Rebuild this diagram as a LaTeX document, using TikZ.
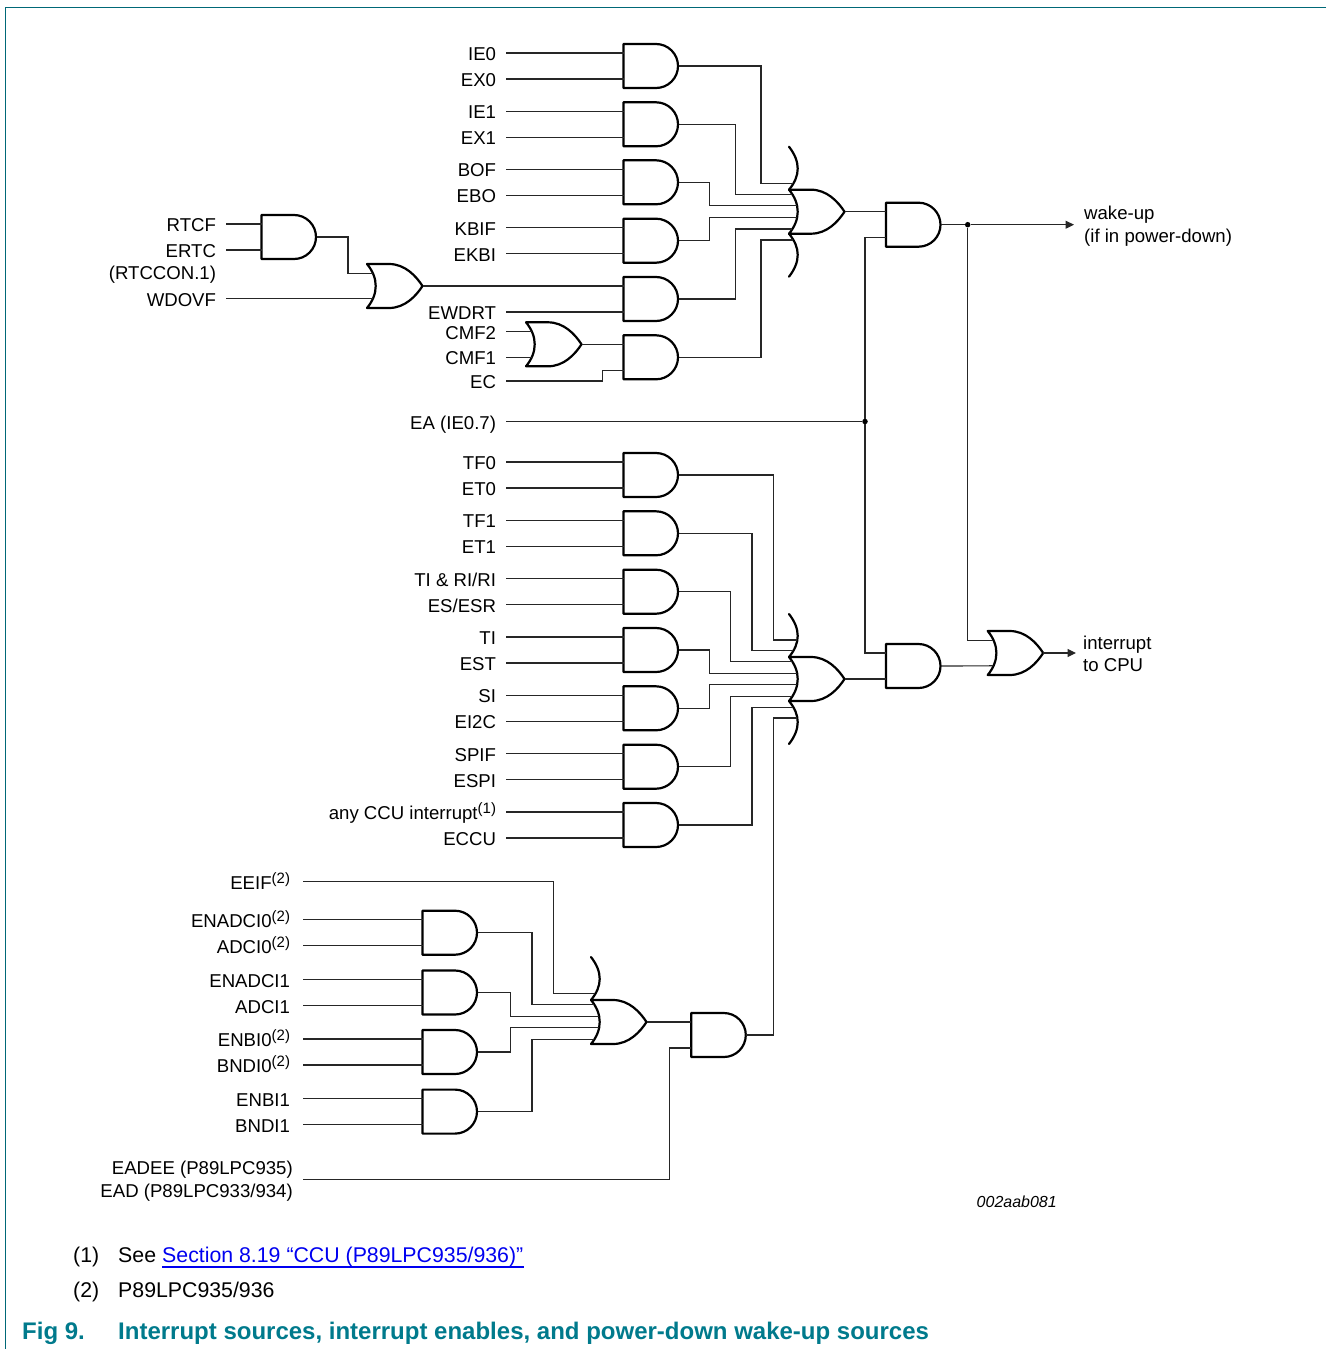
\documentclass[tikz,border=0pt]{standalone}
\usepackage{fontspec}
\setmainfont{Liberation Sans}
\usetikzlibrary{arrows.meta,calc}
\definecolor{teal9}{HTML}{007A8C}
\definecolor{link9}{HTML}{0000F0}
\newcommand\supp[1]{\raisebox{6pt}{\fontsize{15}{15}\selectfont(#1)}}
\newcommand\inlab[4]{\node[lab] (#1) at (#3,0 |- #2) {#4}; \draw[wire] (#1.east) -- (#2);}
\newcommand\inlabb[4]{\node[labb] (#1) at (#3,0 |- #2) {#4}; \draw[wire] (#1.east) -- (#2);}
\tikzset{
  x=1pt,y=-1pt,
  wire/.style={line width=1.15pt,draw=black!85},
  gateline/.style={line width=2.2pt,line join=round,draw=black},
  lab/.style={anchor=east,font=\fontsize{18.6}{22}\selectfont,inner xsep=0pt,inner ysep=0pt,outer xsep=10pt,outer ysep=0pt,text height=15pt,text depth=0pt},
  labb/.style={lab,outer xsep=13pt},
  plain/.style={font=\fontsize{18.6}{23}\selectfont,inner sep=0pt,align=left},
  foot/.style={anchor=base west,font=\fontsize{21.3}{25}\selectfont,inner sep=0pt},
  captxt/.style={anchor=base west,font=\fontsize{24}{27}\selectfont\bfseries,text=teal9,inner sep=0pt},
  jdot/.style={circle,fill=black,inner sep=0pt,minimum size=5.5pt},
  arroww/.style={wire,-{Triangle[length=8.5pt,width=8pt]}},
  andg/.pic={
    \draw[gateline] (-27.5,-22) -- (5,-22) arc[start angle=90,end angle=-90,radius=22pt] -- (-27.5,22) -- cycle;
    \coordinate (-a) at (-27.5,-13);
    \coordinate (-b) at (-27.5,13);
    \coordinate (-o) at (27.5,0);
  },
  orbody/.pic={
    \draw[gateline] (0,-22) -- (22,-22) .. controls (38,-22) and (49,-10) .. (55.5,0) .. controls (49,10) and (38,22) .. (22,22) -- (0,22) .. controls (11.6,8) and (11.6,-8) .. (0,-22) -- cycle;
    \coordinate (-ia) at (5.75,-12.8);
    \coordinate (-ib) at (5.75,12.8);
    \coordinate (-t1) at (8.2,-5.8);
    \coordinate (-b1) at (8.2,5.8);
    \coordinate (-t2) at (3.3,-17.3);
    \coordinate (-b2) at (3.3,17.3);
    \coordinate (-t3) at (4.4,-28.3);
    \coordinate (-b3) at (4.4,28.3);
    \coordinate (-t4) at (8.3,-39);
    \coordinate (-b4) at (8.3,39);
    \coordinate (-o) at (55.5,0);
  },
  extup/.pic={\draw[gateline,line cap=round] (0,-22) .. controls (11.6,-36) and (11.6,-50) .. (0,-65);},
  extdn/.pic={\draw[gateline,line cap=round] (0,22) .. controls (11.6,36) and (11.6,50) .. (0,65);},
}
\begin{document}
\begin{tikzpicture}
\useasboundingbox (0,0) rectangle (1326,1349);
% frame
\draw[line width=1.5pt,draw=teal9!85!black] (1326,7.5) -- (5.5,7.5) -- (5.5,1349);

% bus x positions
\coordinate (v1) at (761,0);
\coordinate (v2) at (735.5,0);
\coordinate (v3) at (709.5,0);
\coordinate (w1) at (773.3,0);
\coordinate (w2) at (752,0);
\coordinate (w3) at (730.7,0);
\coordinate (w4) at (709.3,0);
\coordinate (u1) at (553.7,0);
\coordinate (u2) at (532,0);
\coordinate (u3) at (510.3,0);
\coordinate (ead) at (669.3,0);
\coordinate (ecj) at (602.3,0);
\coordinate (rtcj) at (348,0);

% first group gates
\pic (a1) at (651,66) {andg};
\pic (a2) at (651,124.3) {andg};
\pic (a3) at (651,182.3) {andg};
\pic (a4) at (651,240.7) {andg};
\pic (a5) at (651,299) {andg};
\pic (a6) at (651,357.3) {andg};
\pic (art) at (289,237) {andg};
\pic (ort) at (367,286) {orbody};
\pic (ocm) at (526,344.3) {orbody};
\pic (o1) at (789,211.7) {orbody};
\pic at (789,211.7) {extup};
\pic at (789,211.7) {extdn};
\pic (x1) at (913.5,224.7) {andg};

% second group gates
\pic (b1) at (651,475) {andg};
\pic (b2) at (651,533.3) {andg};
\pic (b3) at (651,591.7) {andg};
\pic (b4) at (651,650) {andg};
\pic (b5) at (651,708.3) {andg};
\pic (b6) at (651,766.7) {andg};
\pic (b7) at (651,825) {andg};
\pic (o2) at (789,679) {orbody};
\pic at (789,679) {extup};
\pic at (789,679) {extdn};
\pic (x2) at (913.5,666) {andg};
\pic (of) at (987.7,653) {orbody};

% third group gates
\pic (c1) at (450,932.7) {andg};
\pic (c2) at (450,992.5) {andg};
\pic (c3) at (450,1052) {andg};
\pic (c4) at (450,1111.6) {andg};
\pic (o3) at (591,1022) {orbody};
\pic at (591,1022) {extup};
\pic (x3) at (718.8,1035) {andg};

% inputs group 1
\inlab{IEzero}{a1-a}{506}{IE0}
\inlab{EXzero}{a1-b}{506}{EX0}
\inlab{IEone}{a2-a}{506}{IE1}
\inlab{EXone}{a2-b}{506}{EX1}
\inlab{BOF}{a3-a}{506}{BOF}
\inlab{EBO}{a3-b}{506}{EBO}
\inlab{KBIF}{a4-a}{506}{KBIF}
\inlab{EKBI}{a4-b}{506}{EKBI}
\inlab{EWDRT}{a5-b}{506}{EWDRT}
\inlab{RTCF}{art-a}{226}{RTCF}
\inlab{ERTC}{art-b}{226}{ERTC}
\node[lab] (rtccon) at (226,272) {(RTCCON.1)};
\node[lab] (WDOVF) at (226,0 |- ort-ib) {WDOVF};
\draw[wire] (WDOVF.east) -- (ort-ib);
\draw[wire] (art-o) -| (rtcj |- ort-ia) -- (ort-ia);
\draw[wire] (ort-o) -- (a5-a);
\inlab{CMFtwo}{ocm-ia}{506}{CMF2}
\inlab{CMFone}{ocm-ib}{506}{CMF1}
\draw[wire] (ocm-o) -- (a6-a);
\node[lab] (EC) at (506,381) {EC};
\draw[wire] (EC.east) -| (ecj |- a6-b) -- (a6-b);

% to first OR
\draw[wire] (a1-o) -| (v1 |- o1-t3) -- (o1-t3);
\draw[wire] (a2-o) -| (v2 |- o1-t2) -- (o1-t2);
\draw[wire] (a3-o) -| (v3 |- o1-t1) -- (o1-t1);
\draw[wire] (a4-o) -| (v3 |- o1-b1) -- (o1-b1);
\draw[wire] (a5-o) -| (v2 |- o1-b2) -- (o1-b2);
\draw[wire] (a6-o) -| (v1 |- o1-b3) -- (o1-b3);
\draw[wire] (o1-o) -- (x1-a);

% EA and junctions
\node[lab] (EA) at (506,421.5) {EA (IE0.7)};
\node[jdot] (j1) at (865,421.5) {};
\draw[wire] (EA.east) -- (j1);
\draw[wire] (x1-b) -| (j1);
\draw[wire] (j1) |- (x2-a);
\node[jdot] (j2) at (967.7,224.7) {};
\coordinate (wkend) at (1074,224.7);
\draw[wire] (x1-o) -- (j2);
\draw[arroww] (j2) -- (wkend);
\draw[wire] (j2) |- (of-ia);
\draw[wire] (o2-o) -- (x2-b);
\draw[wire] (x2-o) -- (of-ib);
\coordinate (intend) at (1076,653);
\draw[arroww] (of-o) -- (intend);

% inputs group 2
\inlab{TFzero}{b1-a}{506}{TF0}
\inlab{ETzero}{b1-b}{506}{ET0}
\inlab{TFone}{b2-a}{506}{TF1}
\inlab{ETone}{b2-b}{506}{ET1}
\inlab{TIRI}{b3-a}{506}{TI \& RI/RI}
\inlab{ESESR}{b3-b}{506}{ES/ESR}
\inlab{TI}{b4-a}{506}{TI}
\inlab{EST}{b4-b}{506}{EST}
\inlab{SI}{b5-a}{506}{SI}
\inlab{EItwoC}{b5-b}{506}{EI2C}
\inlab{SPIF}{b6-a}{506}{SPIF}
\inlab{ESPI}{b6-b}{506}{ESPI}
\inlab{CCUint}{b7-a}{506}{any CCU interrupt\supp{1}}
\inlab{ECCU}{b7-b}{506}{ECCU}

% to second OR
\draw[wire] (b1-o) -| (w1 |- o2-t4) -- (o2-t4);
\draw[wire] (b2-o) -| (w2 |- o2-t3) -- (o2-t3);
\draw[wire] (b3-o) -| (w3 |- o2-t2) -- (o2-t2);
\draw[wire] (b4-o) -| (w4 |- o2-t1) -- (o2-t1);
\draw[wire] (b5-o) -| (w4 |- o2-b1) -- (o2-b1);
\draw[wire] (b6-o) -| (w3 |- o2-b2) -- (o2-b2);
\draw[wire] (b7-o) -| (w2 |- o2-b3) -- (o2-b3);
\draw[wire] (x3-o) -| (w1 |- o2-b4) -- (o2-b4);

% inputs group 3
\node[labb] (EEIF) at (303,881.5) {EEIF\supp{2}};
\draw[wire] (EEIF.east) -| (u1 |- o3-t3) -- (o3-t3);
\inlabb{ENADCIzero}{c1-a}{303}{ENADCI0\supp{2}}
\inlabb{ADCIzero}{c1-b}{303}{ADCI0\supp{2}}
\inlabb{ENADCIone}{c2-a}{303}{ENADCI1}
\inlabb{ADCIone}{c2-b}{303}{ADCI1}
\inlabb{ENBIzero}{c3-a}{303}{ENBI0\supp{2}}
\inlabb{BNDIzero}{c3-b}{303}{BNDI0\supp{2}}
\inlabb{ENBIone}{c4-a}{303}{ENBI1}
\inlabb{BNDIone}{c4-b}{303}{BNDI1}
\draw[wire] (c1-o) -| (u2 |- o3-t2) -- (o3-t2);
\draw[wire] (c2-o) -| (u3 |- o3-t1) -- (o3-t1);
\draw[wire] (c3-o) -| (u3 |- o3-b1) -- (o3-b1);
\draw[wire] (c4-o) -| (u2 |- o3-b2) -- (o3-b2);
\draw[wire] (o3-o) -- (x3-a);
\node[plain,anchor=east,align=right] (EADEE) at (293,1181) {EADEE (P89LPC935)\\EAD (P89LPC933/934)};
\coordinate (eadin) at (303,1179.5);
\draw[wire] (eadin) -| (ead |- x3-b) -- (x3-b);

% output labels
\node[plain,anchor=west] (wake) at (1084,225.7) {wake-up\\(if in power-down)};
\node[plain,anchor=west,font=\fontsize{18.6}{22}\selectfont] (intr) at (1083,654) {interrupt\\to CPU};
\node[anchor=base east,font=\fontsize{16}{18}\selectfont\itshape,inner sep=0pt] (ref) at (1057,1207.5) {002aab081};

% notes
\node[foot] (n1) at (73,1262) {(1)};
\node[foot] (n1a) at (118,1262) {See};
\node[foot,text=link9] (n1b) at (162,1262) {Section 8.19 “CCU (P89LPC935/936)”};
\draw[line width=1.5pt,draw=link9] ($(n1b.base west)+(0,4.8)$) -- ($(n1b.base east)+(0,4.8)$);
\node[foot] (n2) at (73,1297) {(2)};
\node[foot] (n2a) at (118,1297) {P89LPC935/936};
\node[captxt] (fig) at (22,1339.5) {Fig 9.};
\node[captxt] (ttl) at (118,1339.5) {Interrupt sources, interrupt enables, and power-down wake-up sources};
\end{tikzpicture}
\end{document}
